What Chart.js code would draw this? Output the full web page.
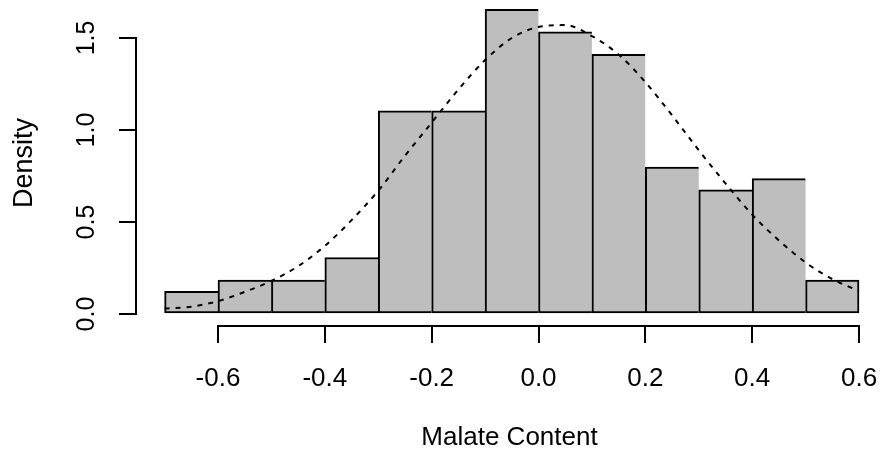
<!DOCTYPE html>
<html>
<head>
<meta charset="utf-8">
<title>Malate Content histogram</title>
<script src="https://cdn.jsdelivr.net/npm/chart.js@4.4.1/dist/chart.umd.min.js"></script>
<style>
  html, body { margin: 0; padding: 0; background: #fff; }
  #wrap { width: 883px; height: 453px; }
</style>
</head>
<body>
<div id="wrap"><canvas id="hist" width="883" height="453"></canvas></div>
<script>
// histogram bins (edges) and density heights
const breaks = [-0.7, -0.6, -0.5, -0.4, -0.3, -0.2, -0.1, 0.0, 0.1, 0.2, 0.3, 0.4, 0.5, 0.6];
const density = [0.123, 0.184, 0.184, 0.307, 1.104, 1.104, 1.656, 1.534, 1.411, 0.798, 0.675, 0.736, 0.184];

// dotted density curve
const curveX = [-0.70, -0.65, -0.60, -0.55, -0.50, -0.45, -0.40, -0.35, -0.30, -0.25, -0.20, -0.15, -0.10,
                -0.05, 0.00, 0.05, 0.10, 0.15, 0.20, 0.25, 0.30, 0.35, 0.40, 0.45, 0.50, 0.55, 0.60];
const curveY = [0.03, 0.04, 0.07, 0.12, 0.18, 0.26, 0.37, 0.51, 0.67, 0.86, 1.04, 1.22, 1.38,
                1.50, 1.56, 1.57, 1.51, 1.41, 1.26, 1.08, 0.89, 0.71, 0.54, 0.40, 0.28, 0.19, 0.125];

// axis ticks
const xTicks = [-0.6, -0.4, -0.2, 0.0, 0.2, 0.4, 0.6];
const yTicks = [0.0, 0.5, 1.0, 1.5];
const xTitle = 'Malate Content';
const yTitle = 'Density';

const FONT = 'Liberation Sans, Arial, Helvetica, sans-serif';

const barData = density.map((d, i) => ({ x: (breaks[i] + breaks[i + 1]) / 2, y: d }));
const lineData = curveX.map((x, i) => ({ x: x, y: curveY[i] }));
const lastBar = density.length - 1;

// R-style axis lines: only from first to last tick
const axisLines = {
    id: 'axisLines',
    afterDraw(chart) {
        const { ctx, chartArea, scales } = chart;
        ctx.save();
        ctx.strokeStyle = '#000';
        ctx.lineWidth = 2;
        ctx.beginPath();
        ctx.moveTo(scales.x.getPixelForValue(xTicks[0]) - 1, chartArea.bottom);
        ctx.lineTo(scales.x.getPixelForValue(xTicks[xTicks.length - 1]) + 1, chartArea.bottom);
        ctx.moveTo(chartArea.left, scales.y.getPixelForValue(yTicks[0]) + 1);
        ctx.lineTo(chartArea.left, scales.y.getPixelForValue(yTicks[yTicks.length - 1]) - 1);
        ctx.stroke();
        ctx.restore();
    }
};

function noPad(s) {
    s.paddingTop = 0; s.paddingBottom = 0; s.paddingLeft = 0; s.paddingRight = 0;
}

new Chart(document.getElementById('hist'), {
    data: {
        datasets: [
            {
                type: 'line',
                data: lineData,
                borderColor: '#000',
                borderWidth: 2,
                borderDash: [5, 6],
                pointRadius: 0,
                cubicInterpolationMode: 'monotone',
                fill: false,
                order: 0
            },
            {
                type: 'bar',
                data: barData,
                backgroundColor: '#BEBEBE',
                borderColor: '#000',
                borderSkipped: false,
                borderWidth: c => ({ top: 2, bottom: 2, left: 2, right: c.dataIndex === lastBar ? 2 : 0 }),
                barPercentage: 1,
                categoryPercentage: 1,
                grouped: false,
                order: 1
            }
        ]
    },
    options: {
        responsive: false,
        animation: false,
        layout: { padding: 0 },
        plugins: { legend: { display: false }, tooltip: { enabled: false } },
        scales: {
            x: {
                type: 'linear',
                offset: false,
                min: -0.7535,
                max: 0.6449,
                afterBuildTicks: s => { s.ticks = xTicks.map(v => ({ value: v })); },
                afterFit: s => { s.height = 127; noPad(s); },
                border: { display: false },
                grid: { offset: false, drawOnChartArea: false, drawTicks: true, tickLength: 17, color: '#000', lineWidth: 2 },
                ticks: {
                    color: '#000',
                    padding: 20,
                    maxRotation: 0,
                    font: { family: FONT, size: 26 },
                    callback: v => v.toFixed(1)
                },
                title: {
                    display: true,
                    text: xTitle,
                    color: '#000',
                    font: { family: FONT, size: 26 },
                    padding: { top: 0, bottom: 0 }
                }
            },
            y: {
                type: 'linear',
                min: -0.0652,
                max: 1.7065,
                afterBuildTicks: s => { s.ticks = yTicks.map(v => ({ value: v })); },
                afterFit: s => { s.width = 136; noPad(s); },
                border: { display: false },
                grid: { drawOnChartArea: false, drawTicks: true, tickLength: 17, color: '#000', lineWidth: 2 },
                ticks: {
                    color: '#000',
                    padding: 15,
                    minRotation: 90,
                    maxRotation: 90,
                    crossAlign: 'center',
                    font: { family: FONT, size: 25 },
                    callback: v => v.toFixed(1)
                },
                title: {
                    display: true,
                    text: yTitle,
                    color: '#000',
                    font: { family: FONT, size: 27 },
                    padding: { top: 8, bottom: 0 }
                }
            }
        }
    },
    plugins: [axisLines]
});
</script>
</body>
</html>
